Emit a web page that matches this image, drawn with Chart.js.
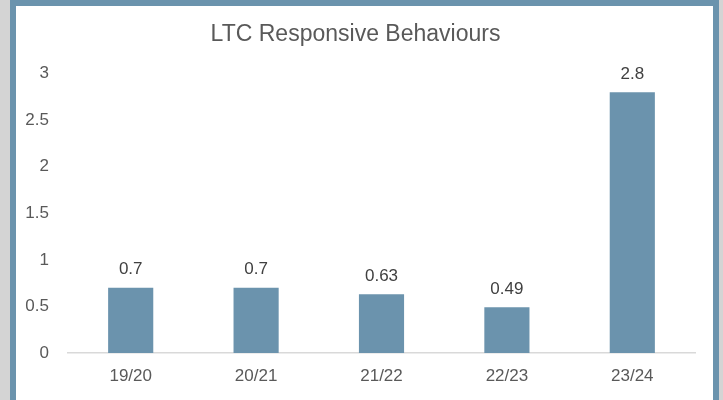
<!DOCTYPE html>
<html>
<head>
<meta charset="utf-8">
<script src="https://cdn.jsdelivr.net/npm/chart.js@4"></script>
<style>
  html, body { margin: 0; padding: 0; }
  body { width: 723px; height: 400px; background: #d4d4d4; position: relative; overflow: hidden; }
  .frame {
    position: absolute; left: 10px; top: 0px;
    width: 697px; height: 400px;
    border: 6px solid #6b93ad; border-bottom: none;
    background: #ffffff;
  }
  .chart-box { position: absolute; left: 0; top: 0; width: 697px; height: 394px; }
</style>
</head>
<body>
<div class="frame">
  <div class="chart-box"><canvas id="ltc-chart"></canvas></div>
</div>
<script>
const years = ["19/20", "20/21", "21/22", "22/23", "23/24"];
const values = [0.7, 0.7, 0.63, 0.49, 2.8];
const yTicks = [0, 0.5, 1, 1.5, 2, 2.5, 3];

const FONT = "'Liberation Sans', Arial, sans-serif";

// draw the value above each bar
const valueLabels = {
  id: "valueLabels",
  afterDatasetsDraw(chart) {
    const ctx = chart.ctx;
    const meta = chart.getDatasetMeta(0);
    ctx.save();
    ctx.font = "17px " + FONT;
    ctx.fillStyle = "#404040";
    ctx.textAlign = "center";
    ctx.textBaseline = "middle";
    meta.data.forEach((bar, i) => {
      ctx.fillText(String(values[i]), bar.x, bar.y - 18);
    });
    ctx.restore();
  },
};

const ctx = document.getElementById("ltc-chart");
new Chart(ctx, {
  type: "bar",
  data: {
    labels: years,
    datasets: [
      {
        data: values,
        backgroundColor: "#6b93ad",
        barPercentage: 0.9,
        categoryPercentage: 0.4,
      },
    ],
  },
  options: {
    responsive: true,
    maintainAspectRatio: false,
    animation: false,
    layout: { padding: { left: 0, right: 18, top: 0, bottom: 0 } },
    plugins: {
      legend: { display: false },
      tooltip: { enabled: false },
      title: {
        display: true,
        text: "LTC Responsive Behaviours",
        color: "#595959",
        font: { family: FONT, size: 23, weight: "normal" },
        padding: { top: 15, bottom: 25 },
      },
    },
    scales: {
      x: {
        grid: { display: false, drawTicks: false },
        border: { display: true, color: "#d9d9d9", width: 1.5 },
        ticks: { color: "#595959", font: { family: FONT, size: 17 }, padding: 13 },
        afterFit(scale) { scale.height = 47; },
      },
      y: {
        min: 0,
        max: 3,
        afterBuildTicks(scale) { scale.ticks = yTicks.map((v) => ({ value: v })); },
        grid: { display: false, drawTicks: false },
        border: { display: false },
        ticks: {
          color: "#595959",
          font: { family: FONT, size: 17 },
          padding: 19,
          callback: (v) => String(v),
        },
        afterFit(scale) { scale.width = 52; },
      },
    },
  },
  plugins: [valueLabels],
});
</script>
</body>
</html>
